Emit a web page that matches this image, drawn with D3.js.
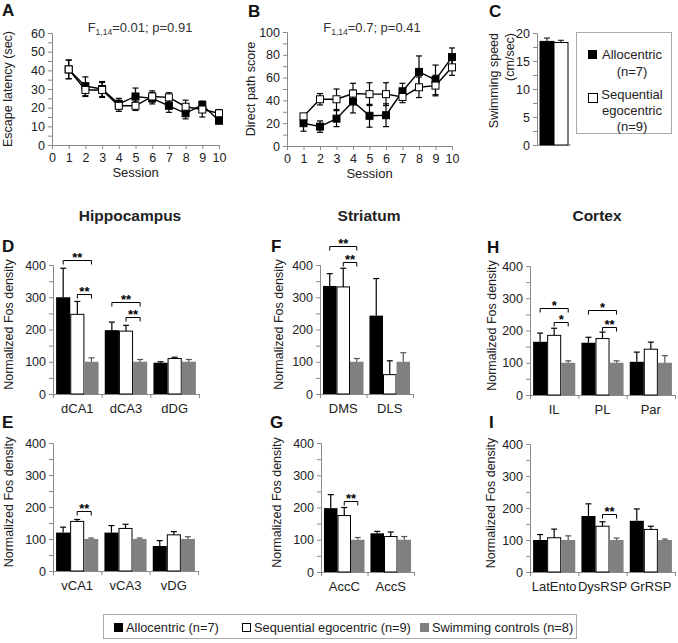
<!DOCTYPE html>
<html><head><meta charset="utf-8">
<script src="https://cdn.jsdelivr.net/npm/d3@7"></script>
<style>body{margin:0;background:#fff} text{font-family:"Liberation Sans",Arial,sans-serif}</style>
</head><body><svg id="c" width="678" height="643"></svg>
<script>
// ---------- DATA ----------
const sessions = [1,2,3,4,5,6,7,8,9,10];
const latencyAllo    = [40.5,31.5,30,22,26,25,21,17,21.5,13];
const latencyAlloErr = [5,5,4,3,4.5,3,3.5,3,2,1.5];
const latencyEgo     = [40.5,29.5,29.5,21,21,26,25.5,20.5,19,17];
const latencyEgoErr  = [5,3.5,4,3,2.5,3,2.5,3.5,4,2];
const pathAllo    = [20,17,24,39,26.5,27,48,65,58,78];
const pathAlloErr = [7,5,7,10,10,10,7,14,13,8];
const pathEgo     = [26,41,41,46,45.5,45.5,43,51.5,53,69];
const pathEgoErr  = [2,5,9,9,10,10,5,9,9,7];
const speedGroups = ["Allocentric","Sequential egocentric"];
const speedVals = [18.5,18.3];
const speedErr = [0.6,0.4];

const regionsD = ["dCA1","dCA3","dDG"];
const alloD=[300,198,97], alloErrD=[90,25,3];
const egoD=[247,195,110], egoErrD=[40,18,4];
const ctrlD=[100,100,100], ctrlErrD=[12,7,7];
const sigD=[[0,0,2,415,"**"],[0,1,2,310,"**"],[1,0,2,285,"**"],[1,1,2,239,"**"]];

const regionsE = ["vCA1","vCA3","vDG"];
const alloE=[120,120,78], alloErrE=[17,22,17];
const egoE=[155,133,113], egoErrE=[6,13,10];
const ctrlE=[100,100,100], ctrlErrE=[3,3,7];
const sigE=[[0,1,2,187,"**"]];

const regionsF = ["DMS","DLS"];
const alloF=[335,243], alloErrF=[38,115];
const egoF=[332,60], egoErrF=[58,43];
const ctrlF=[100,100], ctrlErrF=[10,28];
const sigF=[[0,0,2,459,"**"],[0,1,2,409,"**"]];

const regionsG = ["AccC","AccS"];
const alloG=[198,120], alloErrG=[42,6];
const egoG=[175,110], egoErrG=[25,14];
const ctrlG=[100,100], ctrlErrG=[7,10];
const sigG=[[0,1,2,220,"**"]];

const regionsH = ["IL","PL","Par"];
const alloH=[165,162,103], alloErrH=[27,17,30];
const egoH=[185,175,142], egoErrH=[22,20,22];
const ctrlH=[100,100,100], ctrlErrH=[6,6,22];
const sigH=[[0,0,2,270,"*"],[0,1,2,226,"*"],[1,0,2,264,"*"],[1,1,2,211,"**"]];

const regionsI = ["LatEnto","DysRSP","GrRSP"];
const alloI=[100,175,160], alloErrI=[17,38,37];
const egoI=[107,143,133], egoErrI=[27,14,10];
const ctrlI=[100,100,100], ctrlErrI=[13,6,3];
const sigI=[[1,1,2,181,"**"]];

const legendLabels = ["Allocentric (n=7)","Sequential egocentric (n=9)","Swimming controls (n=8)"];

// ---------- STYLE ----------
const svg = d3.select("#c");
const AX = "#8a8a8a", TX = "#222";
const FILL = ["#000","#fff","#808080"];
const ERRC = ["#000","#000","#555"];
const FONT = 12.5;

function styleAxis(g){
  g.selectAll(".domain").attr("stroke",AX);
  g.selectAll(".tick line").attr("stroke",AX);
  g.selectAll(".tick text").attr("fill",TX).attr("font-size",FONT)
   .attr("font-family","Liberation Sans, Arial, sans-serif");
}
function letter(t,x,y){
  svg.append("text").attr("x",x).attr("y",y).text(t).attr("font-size",17)
    .attr("font-weight","bold").attr("fill","#111");
}
function ylab(lines,x,y,anchor){
  lines.forEach((t,i)=>{
    svg.append("text").attr("transform",`translate(${x[i]},${y}) rotate(-90)`)
      .attr("text-anchor",anchor||"middle").attr("font-size",FONT).attr("fill",TX).text(t);
  });
}

// ---------- LINE PANELS ----------
function linePanel(o){
  const x = d3.scaleLinear().domain([0,10]).range([o.x0,o.x1]);
  const y = d3.scaleLinear().domain([0,o.ymax]).range([o.yb,o.yt]);
  const gy = svg.append("g").attr("transform",`translate(${o.x0},0)`)
    .call(d3.axisLeft(y).tickValues(d3.range(0,o.ymax+0.01,o.minor)).tickSize(4).tickPadding(3)
      .tickFormat(d=> (Math.round(d)%o.major===0)?d:""));
  styleAxis(gy);
  const gx = svg.append("g").attr("transform",`translate(0,${o.yb})`)
    .call(d3.axisBottom(x).tickValues(d3.range(0,11)).tickSize(4).tickPadding(4).tickSizeOuter(0));
  styleAxis(gx);
  const series = [[o.allo,o.alloErr,"#000"],[o.ego,o.egoErr,"#fff"]];
  const line = d3.line().x((d,i)=>x(sessions[i])).y(d=>y(d));
  series.forEach(s=>{
    svg.append("path").datum(s[0]).attr("d",line).attr("fill","none").attr("stroke","#000").attr("stroke-width",1.4);
  });
  series.forEach(s=>{
    const g = svg.append("g").attr("stroke","#000").attr("stroke-width",1.2);
    s[0].forEach((v,i)=>{
      const cx=x(sessions[i]), t=y(v+s[1][i]), b=y(v-s[1][i]);
      g.append("line").attr("x1",cx).attr("x2",cx).attr("y1",t).attr("y2",b);
      g.append("line").attr("x1",cx-3).attr("x2",cx+3).attr("y1",t).attr("y2",t);
      g.append("line").attr("x1",cx-3).attr("x2",cx+3).attr("y1",b).attr("y2",b);
    });
  });
  series.forEach(s=>{
    svg.append("g").selectAll("rect").data(s[0]).join("rect")
      .attr("x",(d,i)=>x(sessions[i])-3.5).attr("y",d=>y(d)-3.5)
      .attr("width",7).attr("height",7).attr("fill",s[2]).attr("stroke","#000").attr("stroke-width",1);
  });
  svg.append("text").attr("x",(o.x0+o.x1)/2).attr("y",o.yb+32).attr("text-anchor","middle")
    .attr("font-size",13).attr("fill",TX).text("Session");
  const t = svg.append("text").attr("x",o.tx).attr("y",32).attr("text-anchor","middle")
    .attr("font-size",13).attr("fill","#333");
  t.append("tspan").text("F");
  t.append("tspan").attr("font-size",8.5).attr("dy",3).text("1,14");
  t.append("tspan").attr("dy",-3).text(o.stat);
}
linePanel({x0:52,x1:219,yt:33,yb:145,ymax:60,minor:5,major:10,allo:latencyAllo,alloErr:latencyAlloErr,
  ego:latencyEgo,egoErr:latencyEgoErr,tx:140,stat:"=0.01; p=0.91"});
linePanel({x0:287,x1:452,yt:32,yb:146,ymax:100,minor:10,major:20,allo:pathAllo,alloErr:pathAlloErr,
  ego:pathEgo,egoErr:pathEgoErr,tx:372,stat:"=0.7; p=0.41"});
letter("A",2,16); letter("B",248,17); letter("C",489,17);
ylab(["Escape latency (sec)"],[12],89);
ylab(["Direct path score"],[255],89);

// ---------- PANEL C ----------
(function(){
  const y = d3.scaleLinear().domain([0,20]).range([145,33]);
  const xb = d3.scaleBand().domain(speedGroups).range([540,568]);
  const gy = svg.append("g").attr("transform","translate(537,0)")
    .call(d3.axisLeft(y).tickValues(d3.range(0,20.01,2.5)).tickSize(4).tickPadding(3)
      .tickFormat(d=> d%5===0?d:""));
  styleAxis(gy);
  svg.append("line").attr("x1",537).attr("x2",571).attr("y1",145).attr("y2",145).attr("stroke",AX);
  speedGroups.forEach((g,i)=>{
    svg.append("rect").attr("x",xb(g)).attr("y",y(speedVals[i])).attr("width",xb.bandwidth())
      .attr("height",145-y(speedVals[i])).attr("fill",FILL[i]).attr("stroke","#000").attr("stroke-width",1);
    const cx = xb(g)+xb.bandwidth()/2, t=y(speedVals[i]+speedErr[i]);
    svg.append("line").attr("x1",cx).attr("x2",cx).attr("y1",y(speedVals[i])).attr("y2",t).attr("stroke","#000");
    svg.append("line").attr("x1",cx-3).attr("x2",cx+3).attr("y1",t).attr("y2",t).attr("stroke","#000");
  });
  ylab(["Swimming speed","(cm/sec)"],[498,514],33,"end");
  svg.append("rect").attr("x",576.5).attr("y",32.5).attr("width",95).attr("height",101)
    .attr("fill","#fff").attr("stroke","#aaa");
  svg.append("rect").attr("x",588).attr("y",50).attr("width",9).attr("height",9).attr("fill","#000");
  svg.append("rect").attr("x",588.5).attr("y",93.5).attr("width",9).attr("height",9).attr("fill","#fff").attr("stroke","#000");
  const lt = [["Allocentric",59],["(n=7)",76],["Sequential",99],["egocentric",115],["(n=9)",131]];
  lt.forEach(d=> svg.append("text").attr("x",632).attr("y",d[1]).attr("text-anchor","middle")
    .attr("font-size",13).attr("fill",TX).text(d[0]));
})();

// ---------- BAR PANELS ----------
function barPanel(o){
  const y = d3.scaleLinear().domain([0,400]).range([o.yb,o.yt]);
  const n = o.regions.length;
  const gxs = d3.scaleBand().domain(o.regions).range([o.x0,o.x1]);
  const bx = d3.scaleBand().domain([0,1,2]).range([0,gxs.bandwidth()]).paddingOuter(0.22);
  const gy = svg.append("g").attr("transform",`translate(${o.x0},0)`)
    .call(d3.axisLeft(y).tickValues(d3.range(0,401,50)).tickSize(4).tickPadding(3)
      .tickFormat(d=> d%100===0?d:""));
  styleAxis(gy);
  const lin = d3.scaleLinear().domain([0,n]).range([o.x0,o.x1]);
  const gx = svg.append("g").attr("transform",`translate(0,${o.yb})`)
    .call(d3.axisBottom(lin).tickValues(d3.range(0,n+1)).tickSize(4).tickSizeOuter(0).tickFormat(""));
  styleAxis(gx);
  const vals=[o.allo,o.ego,o.ctrl], errs=[o.alloErr,o.egoErr,o.ctrlErr];
  const cxOf=(r,s)=> gxs(o.regions[r])+bx(s)+bx.bandwidth()/2;
  o.regions.forEach((reg,r)=>{
    [0,1,2].forEach(s=>{
      const v=vals[s][r], x=gxs(reg)+bx(s);
      svg.append("rect").attr("x",x+(s===1?0.5:0)).attr("y",y(v)).attr("width",bx.bandwidth()-(s===1?1:0))
        .attr("height",y(0)-y(v)).attr("fill",FILL[s]).attr("stroke",s===1?"#000":"none").attr("stroke-width",1);
      const cx=cxOf(r,s), t=y(v+errs[s][r]);
      svg.append("line").attr("x1",cx).attr("x2",cx).attr("y1",y(v)).attr("y2",t).attr("stroke",ERRC[s]).attr("stroke-width",1.2);
      svg.append("line").attr("x1",cx-3).attr("x2",cx+3).attr("y1",t).attr("y2",t).attr("stroke",ERRC[s]).attr("stroke-width",1.2);
    });
    svg.append("text").attr("x",gxs(reg)+gxs.bandwidth()/2).attr("y",o.yb+19).attr("text-anchor","middle")
      .attr("font-size",13).attr("fill",TX).text(reg);
  });
  o.sig.forEach(sg=>{
    const x1=cxOf(sg[0],sg[1]), x2=cxOf(sg[0],sg[2]), yy=Math.round(y(sg[3]))+0.5;
    svg.append("path").attr("d",`M${x1},${yy+4}V${yy}H${x2}V${yy+4}`).attr("fill","none")
      .attr("stroke","#000").attr("stroke-width",1);
    svg.append("text").attr("x",(x1+x2)/2).attr("y",yy+1).attr("text-anchor","middle")
      .attr("font-size",13).attr("font-weight","bold").attr("fill","#000").text(sg[4]);
  });
  ylab(["Normalized Fos density"],[o.lx],(o.yt+o.yb)/2-5);
}
barPanel({x0:53,x1:199,yt:265,yb:394,regions:regionsD,allo:alloD,alloErr:alloErrD,ego:egoD,egoErr:egoErrD,ctrl:ctrlD,ctrlErr:ctrlErrD,sig:sigD,lx:13});
barPanel({x0:53,x1:198,yt:443,yb:571,regions:regionsE,allo:alloE,alloErr:alloErrE,ego:egoE,egoErr:egoErrE,ctrl:ctrlE,ctrlErr:ctrlErrE,sig:sigE,lx:13});
barPanel({x0:320,x1:413,yt:265,yb:394,regions:regionsF,allo:alloF,alloErr:alloErrF,ego:egoF,egoErr:egoErrF,ctrl:ctrlF,ctrlErr:ctrlErrF,sig:sigF,lx:283});
barPanel({x0:321,x1:414,yt:443,yb:572,regions:regionsG,allo:alloG,alloErr:alloErrG,ego:egoG,egoErr:egoErrG,ctrl:ctrlG,ctrlErr:ctrlErrG,sig:sigG,lx:281});
barPanel({x0:530,x1:675,yt:266,yb:395,regions:regionsH,allo:alloH,alloErr:alloErrH,ego:egoH,egoErr:egoErrH,ctrl:ctrlH,ctrlErr:ctrlErrH,sig:sigH,lx:496});
barPanel({x0:530,x1:675,yt:444,yb:572,regions:regionsI,allo:alloI,alloErr:alloErrI,ego:egoI,egoErr:egoErrI,ctrl:ctrlI,ctrlErr:ctrlErrI,sig:sigI,lx:495});

letter("D",2,252); letter("E",2,428); letter("F",271,252); letter("G",270,428); letter("H",487,253); letter("I",489,428);
[["Hippocampus",130],["Striatum",369],["Cortex",597]].forEach(d=>
  svg.append("text").attr("x",d[1]).attr("y",221).attr("text-anchor","middle").attr("font-size",15.5)
    .attr("font-weight","bold").attr("fill","#222").text(d[0]));

// ---------- BOTTOM LEGEND ----------
svg.append("rect").attr("x",103.5).attr("y",614.5).attr("width",473).attr("height",24).attr("fill","#fff").attr("stroke","#aaa");
const legX = [114,242,420];
legendLabels.forEach((t,i)=>{
  svg.append("rect").attr("x",legX[i]+(i===1?0.5:0)).attr("y",623+(i===1?0.5:0)).attr("width",i===1?8:9).attr("height",i===1?8:9)
    .attr("fill",FILL[i]).attr("stroke",i===1?"#000":"none");
  svg.append("text").attr("x",legX[i]+12).attr("y",632).attr("font-size",12.8).attr("fill",TX).text(t);
});
</script></body></html>
